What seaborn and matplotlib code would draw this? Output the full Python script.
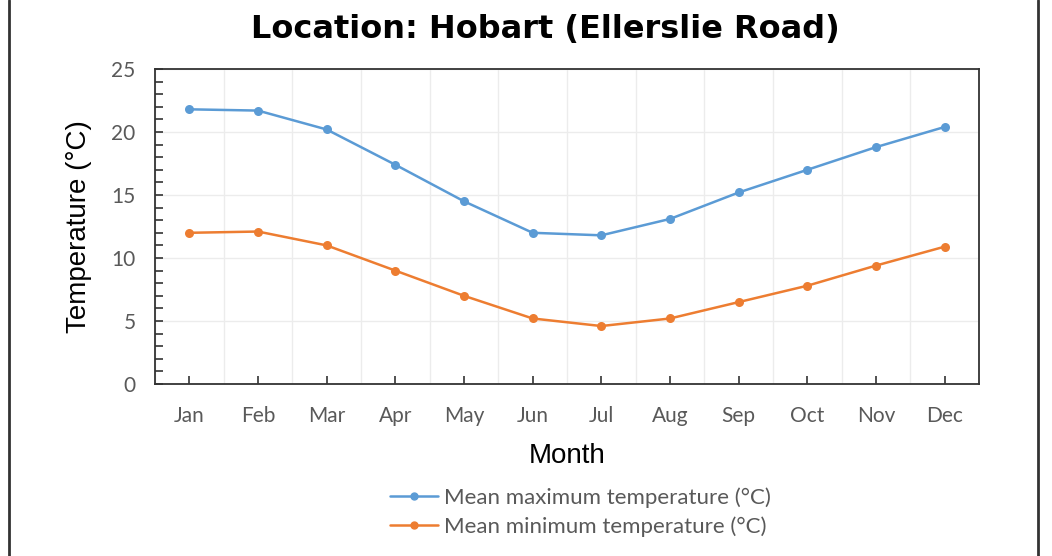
import pandas as pd
import seaborn as sns
import matplotlib.pyplot as plt
from matplotlib.lines import Line2D
from matplotlib.ticker import MultipleLocator

# monthly means for Hobart (Ellerslie Road)
months = ["Jan", "Feb", "Mar", "Apr", "May", "Jun",
          "Jul", "Aug", "Sep", "Oct", "Nov", "Dec"]
mean_max = [21.8, 21.7, 20.2, 17.4, 14.5, 12.0, 11.8, 13.1, 15.2, 17.0, 18.8, 20.4]
mean_min = [12.0, 12.1, 11.0, 9.0, 7.0, 5.2, 4.6, 5.2, 6.5, 7.8, 9.4, 10.9]
series_names = ["Mean maximum temperature (°C)", "Mean minimum temperature (°C)"]

df = pd.DataFrame({
    "Month": months * 2,
    "Temperature": mean_max + mean_min,
    "Series": [series_names[0]] * 12 + [series_names[1]] * 12,
})
df["pos"] = df["Month"].map({m: i for i, m in enumerate(months)})

sns.set_style("white")
plt.rcParams["font.family"] = ["Liberation Sans", "DejaVu Sans"]

fig = plt.figure(figsize=(10.52, 5.56), dpi=100)
ax = fig.add_axes([155 / 1052, 1 - 384 / 556, 824 / 1052, 315 / 556])

palette = {series_names[0]: "#5B9BD5", series_names[1]: "#ED7D31"}
sns.lineplot(data=df, x="pos", y="Temperature", hue="Series", palette=palette,
             marker="o", markersize=6.5, markeredgewidth=0, linewidth=1.8,
             ax=ax, legend=False)

ax.set_xlim(-0.5, 11.5)
ax.set_ylim(0, 25)
ax.set_xticks(range(12))
ax.set_xticklabels(months)
ax.xaxis.set_minor_locator(MultipleLocator(1, offset=0.5))
ax.yaxis.set_major_locator(MultipleLocator(5))
ax.yaxis.set_minor_locator(MultipleLocator(1))

ax.grid(False)
ax.grid(which="major", axis="y", color="#ececec", linewidth=1)
ax.grid(which="minor", axis="x", color="#ececec", linewidth=1)
ax.set_axisbelow(True)

for s in ax.spines.values():
    s.set_color("#333333")
    s.set_linewidth(1.3)

ax.tick_params(axis="x", which="major", direction="in", length=6, width=1.2,
               bottom=True, color="#333333", labelsize=15,
               labelcolor="#595959", pad=16)
ax.tick_params(axis="x", which="minor", length=0)
ax.tick_params(axis="y", which="both", direction="in", length=6, width=1.2,
               left=True, color="#333333", labelsize=15,
               labelcolor="#595959", pad=14)
for lbl in ax.get_xticklabels() + ax.get_yticklabels():
    lbl.set_family(["Lato", "DejaVu Sans"])

ax.set_xlabel("Month", fontsize=20, color="black", labelpad=12)
ax.set_ylabel("Temperature (°C)", fontsize=20, color="black", labelpad=14)

fig.suptitle("Location: Hobart (Ellerslie Road)", x=0.518, y=0.975,
             fontsize=23, fontweight="bold", color="black",
             family=["DejaVu Sans"])

handles = [Line2D([], [], color=palette[n], marker="o", markersize=5,
                  linewidth=1.8) for n in series_names]
leg = ax.legend(handles, series_names, loc="upper center",
                bbox_to_anchor=(0.516, -0.265), frameon=False,
                handlelength=2.2, handletextpad=0.25, labelspacing=0.38,
                prop={"family": ["Lato", "DejaVu Sans"], "size": 16})
for t in leg.get_texts():
    t.set_color("#595959")

# frame lines at the sides of the picture
fig.add_artist(Line2D([9 / 1052] * 2, [0, 1], color="#333333", linewidth=2,
                      transform=fig.transFigure))
fig.add_artist(Line2D([1038 / 1052] * 2, [0, 1], color="#333333", linewidth=2,
                      transform=fig.transFigure))

fig.savefig("out.png", dpi=100)
